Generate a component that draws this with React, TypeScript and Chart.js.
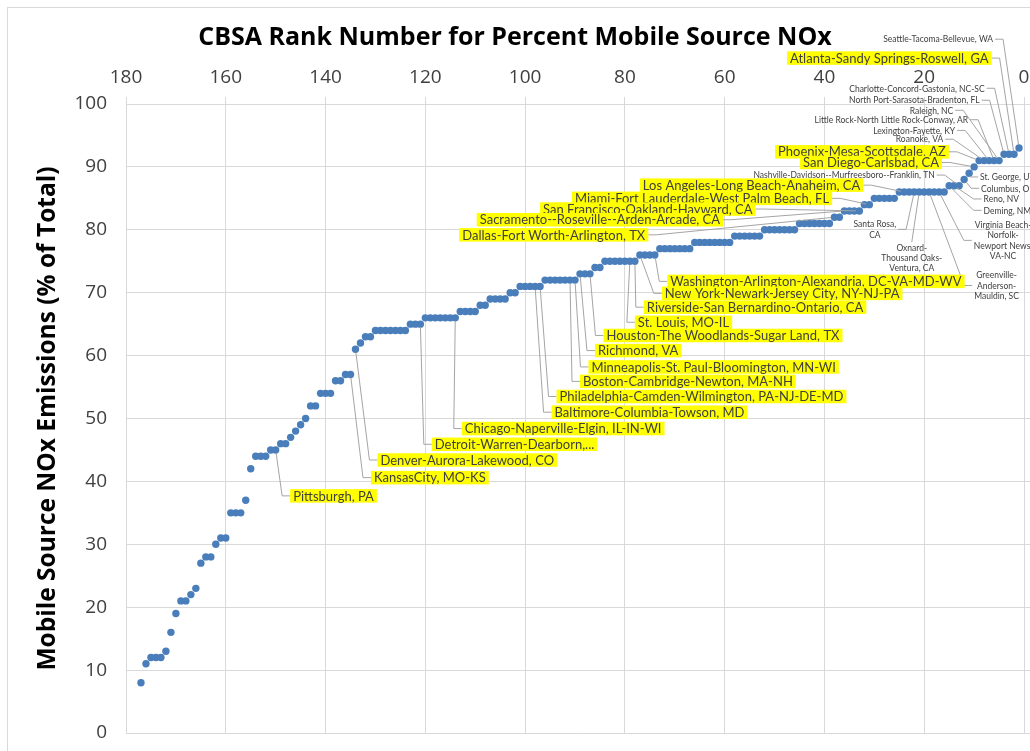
import React, { useEffect, useRef } from 'react';
import { Chart, registerables } from 'chart.js';

Chart.register(...registerables);

// Percent mobile-source NOx, listed in rank order (rank 1 first, rank 177 last)
const VALUES_BY_RANK: number[] = [
  93, 92, 92, 92, 91, 91, 91, 91, 91, 90,
  89, 88, 87, 87, 87, 86, 86, 86, 86, 86,
  86, 86, 86, 86, 86, 85, 85, 85, 85, 85,
  84, 84, 83, 83, 83, 83, 82, 82, 81, 81,
  81, 81, 81, 81, 81, 80, 80, 80, 80, 80,
  80, 80, 79, 79, 79, 79, 79, 79, 78, 78,
  78, 78, 78, 78, 78, 78, 77, 77, 77, 77,
  77, 77, 77, 76, 76, 76, 76, 75, 75, 75,
  75, 75, 75, 75, 74, 74, 73, 73, 73, 72,
  72, 72, 72, 72, 72, 72, 71, 71, 71, 71,
  71, 70, 70, 69, 69, 69, 69, 68, 68, 67,
  67, 67, 67, 66, 66, 66, 66, 66, 66, 66,
  65, 65, 65, 64, 64, 64, 64, 64, 64, 64,
  63, 63, 62, 61, 57, 57, 56, 56, 54, 54,
  54, 52, 52, 50, 49, 48, 47, 46, 46, 45,
  45, 44, 44, 44, 42, 37, 35, 35, 35, 31,
  31, 30, 28, 28, 27, 23, 22, 21, 21, 19,
  16, 13, 12, 12, 12, 11, 8,
];

const TITLE = 'CBSA Rank Number for Percent Mobile Source NOx';
const Y_TITLE = 'Mobile Source NOx Emissions (% of Total)';

type Callout = {
  text: string[];
  rank: number; // rank of the point the leader line points to
  at: [number, number]; // label anchor in data units [rank, percent]
  align: 'left' | 'right' | 'center';
  side: 'left' | 'right' | 'top';
  hl: boolean; // yellow highlighted label
};

const CALLOUTS: Callout[] = [
  { text: ['Seattle-Tacoma-Bellevue, WA'], rank: 1, at: [5.8, 110.3], align: 'right', side: 'right', hl: false },
  { text: ['Atlanta-Sandy Springs-Roswell, GA'], rank: 2, at: [47.5, 107.3], align: 'left', side: 'right', hl: true },
  { text: ['Charlotte-Concord-Gastonia, NC-SC'], rank: 3, at: [7.5, 102.5], align: 'right', side: 'right', hl: false },
  { text: ['North Port-Sarasota-Bradenton, FL'], rank: 4, at: [8.5, 100.6], align: 'right', side: 'right', hl: false },
  { text: ['Raleigh, NC'], rank: 5, at: [13.8, 99.0], align: 'right', side: 'right', hl: false },
  { text: ['Little Rock-North Little Rock-Conway, AR'], rank: 6, at: [10.8, 97.5], align: 'right', side: 'right', hl: false },
  { text: ['Lexington-Fayette, KY'], rank: 7, at: [13.4, 95.8], align: 'right', side: 'right', hl: false },
  { text: ['Roanoke, VA'], rank: 8, at: [15.8, 94.4], align: 'right', side: 'right', hl: false },
  { text: ['Phoenix-Mesa-Scottsdale, AZ'], rank: 9, at: [49.9, 92.4], align: 'left', side: 'right', hl: true },
  { text: ['San Diego-Carlsbad, CA'], rank: 10, at: [44.9, 90.7], align: 'left', side: 'right', hl: true },
  { text: ['St. George, UT'], rank: 11, at: [9.2, 88.4], align: 'left', side: 'left', hl: false },
  { text: ['Columbus, OH'], rank: 12, at: [9.0, 86.6], align: 'left', side: 'left', hl: false },
  { text: ['Nashville-Davidson--Murfreesboro--Franklin, TN'], rank: 13, at: [17.5, 88.7], align: 'right', side: 'right', hl: false },
  { text: ['Reno, NV'], rank: 14, at: [8.5, 84.9], align: 'left', side: 'left', hl: false },
  { text: ['Deming, NM'], rank: 15, at: [8.5, 83.1], align: 'left', side: 'left', hl: false },
  { text: ['Virginia Beach-', 'Norfolk-', 'Newport News,', 'VA-NC'], rank: 17, at: [4.2, 80.8], align: 'center', side: 'left', hl: false },
  { text: ['Greenville-', 'Anderson-', 'Mauldin, SC'], rank: 19, at: [5.5, 72.8], align: 'center', side: 'left', hl: false },
  { text: ['Oxnard-', 'Thousand Oaks-', 'Ventura, CA'], rank: 21, at: [22.5, 77.2], align: 'center', side: 'top', hl: false },
  { text: ['Santa Rosa,', 'CA'], rank: 22, at: [29.9, 80.9], align: 'center', side: 'right', hl: false },
  { text: ['Los Angeles-Long Beach-Anaheim, CA'], rank: 24, at: [77.0, 87.1], align: 'left', side: 'right', hl: true },
  { text: ['Miami-Fort Lauderdale-West Palm Beach, FL'], rank: 31, at: [90.6, 85.0], align: 'left', side: 'right', hl: true },
  { text: ['San Francisco-Oakland-Hayward, CA'], rank: 33, at: [97.0, 83.3], align: 'left', side: 'right', hl: true },
  { text: ['Sacramento--Roseville--Arden-Arcade, CA'], rank: 36, at: [109.7, 81.6], align: 'left', side: 'right', hl: true },
  { text: ['Dallas-Fort Worth-Arlington, TX'], rank: 38, at: [113.2, 79.2], align: 'left', side: 'right', hl: true },
  { text: ['Washington-Arlington-Alexandria, DC-VA-MD-WV'], rank: 74, at: [71.5, 71.8], align: 'left', side: 'left', hl: true },
  { text: ['New York-Newark-Jersey City, NY-NJ-PA'], rank: 77, at: [72.6, 69.9], align: 'left', side: 'left', hl: true },
  { text: ['Riverside-San Bernardino-Ontario, CA'], rank: 78, at: [76.2, 67.7], align: 'left', side: 'left', hl: true },
  { text: ['St. Louis, MO-IL'], rank: 79, at: [78.0, 65.3], align: 'left', side: 'left', hl: true },
  { text: ['Houston-The Woodlands-Sugar Land, TX'], rank: 87, at: [84.3, 63.2], align: 'left', side: 'left', hl: true },
  { text: ['Richmond, VA'], rank: 89, at: [86.0, 60.8], align: 'left', side: 'left', hl: true },
  { text: ['Minneapolis-St. Paul-Bloomington, MN-WI'], rank: 90, at: [87.3, 58.2], align: 'left', side: 'left', hl: true },
  { text: ['Boston-Cambridge-Newton, MA-NH'], rank: 91, at: [89.0, 55.9], align: 'left', side: 'left', hl: true },
  { text: ['Philadelphia-Camden-Wilmington, PA-NJ-DE-MD'], rank: 97, at: [93.7, 53.5], align: 'left', side: 'left', hl: true },
  { text: ['Baltimore-Columbia-Towson, MD'], rank: 98, at: [94.7, 51.0], align: 'left', side: 'left', hl: true },
  { text: ['Chicago-Naperville-Elgin, IL-IN-WI'], rank: 114, at: [112.7, 48.4], align: 'left', side: 'left', hl: true },
  { text: ['Detroit-Warren-Dearborn,...'], rank: 121, at: [118.7, 45.9], align: 'left', side: 'left', hl: true },
  { text: ['Denver-Aurora-Lakewood, CO'], rank: 134, at: [129.6, 43.4], align: 'left', side: 'left', hl: true },
  { text: ['KansasCity, MO-KS'], rank: 135, at: [130.9, 40.6], align: 'left', side: 'left', hl: true },
  { text: ['Pittsburgh, PA'], rank: 150, at: [147.1, 37.7], align: 'left', side: 'left', hl: true },
];

const LABEL_FONT = 'Lato, "Open Sans", sans-serif';
const AXIS_FONT = '"Open Sans", Lato, sans-serif';
const POINT_COLOR = '#4A7EBB';
const GRID_COLOR = '#D9D9D9';
const TEXT_COLOR = '#404040';

const framePlugin = {
  id: 'frame',
  beforeDraw(chart: any) {
    const ctx = chart.ctx as CanvasRenderingContext2D;
    ctx.save();
    ctx.fillStyle = '#ffffff';
    ctx.fillRect(0, 0, chart.width, chart.height);
    ctx.strokeStyle = GRID_COLOR;
    ctx.lineWidth = 1;
    ctx.strokeRect(7.5, 7.5, chart.width + 50, chart.height + 50);
    ctx.restore();
  },
};

const calloutPlugin = {
  id: 'callouts',
  afterDatasetsDraw(chart: any) {
    const ctx = chart.ctx as CanvasRenderingContext2D;
    const xs = chart.scales.x;
    const ys = chart.scales.y;
    ctx.save();
    const boxes: any[] = [];
    for (const c of CALLOUTS) {
      const fs = c.hl ? 13 : 8.5;
      const lh = c.hl ? 13.5 : 10.4;
      const pad = c.hl ? 3 : 2;
      ctx.font = `${fs}px ${LABEL_FONT}`;
      const w = Math.max(...c.text.map((t) => ctx.measureText(t).width));
      const ax = xs.getPixelForValue(c.at[0]);
      const ay = ys.getPixelForValue(c.at[1]);
      let left: number;
      if (c.align === 'left') left = ax;
      else if (c.align === 'right') left = ax - w - 2 * pad;
      else left = ax - w / 2 - pad;
      const right = left + w + 2 * pad;
      const top = ay - lh / 2;
      const bottom = top + lh * c.text.length;
      const midY = (top + bottom) / 2;
      const v = VALUES_BY_RANK[c.rank - 1];
      const px = xs.getPixelForValue(c.rank);
      const py = ys.getPixelForValue(v);
      let sx: number, sy: number, ex: number, ey: number;
      if (c.side === 'right') {
        sx = right; sy = midY; ex = right + 8; ey = midY;
      } else if (c.side === 'left') {
        sx = left; sy = midY; ex = left - 8; ey = midY;
      } else {
        sx = (left + right) / 2; sy = top; ex = sx; ey = top;
      }
      const dx = px - ex, dy = py - ey;
      const d = Math.hypot(dx, dy) || 1;
      const tx = px - (dx / d) * 3.5;
      const ty = py - (dy / d) * 3.5;
      ctx.strokeStyle = '#A5A5A5';
      ctx.lineWidth = 1;
      ctx.beginPath();
      ctx.moveTo(sx, sy);
      ctx.lineTo(ex, ey);
      ctx.lineTo(tx, ty);
      ctx.stroke();
      boxes.push({ c, fs, lh, pad, left, top, bottom, w });
    }
    for (const b of boxes) {
      const { c, fs, lh, pad, left, top, bottom, w } = b;
      if (c.hl) {
        ctx.fillStyle = '#FFFF00';
        ctx.fillRect(left, top, w + 2 * pad, bottom - top);
      }
      ctx.font = `${fs}px ${LABEL_FONT}`;
      ctx.fillStyle = TEXT_COLOR;
      ctx.textBaseline = 'middle';
      c.text.forEach((t: string, i: number) => {
        const y = top + lh * i + lh / 2 + 0.5;
        if (c.align === 'center') {
          ctx.textAlign = 'center';
          ctx.fillText(t, left + pad + w / 2, y);
        } else if (c.align === 'right') {
          ctx.textAlign = 'right';
          ctx.fillText(t, left + pad + w, y);
        } else {
          ctx.textAlign = 'left';
          ctx.fillText(t, left + pad, y);
        }
      });
    }
    ctx.restore();
  },
};

export default function App() {
  const canvasRef = useRef<HTMLCanvasElement | null>(null);

  useEffect(() => {
    document.body.style.margin = '0';
    const canvas = canvasRef.current;
    if (!canvas) return;
    const points = VALUES_BY_RANK.map((v, i) => ({ x: i + 1, y: v }));
    const chart = new Chart(canvas, {
      type: 'scatter',
      data: {
        datasets: [
          {
            data: points,
            pointRadius: 3.7,
            pointHoverRadius: 3.7,
            pointBackgroundColor: POINT_COLOR,
            pointBorderWidth: 0,
            borderWidth: 0,
            showLine: false,
          },
        ],
      },
      options: {
        animation: false,
        responsive: false,
        devicePixelRatio: 1,
        layout: { autoPadding: false, padding: { left: 0, right: 0, top: 0, bottom: 18 } },
        plugins: {
          legend: { display: false },
          tooltip: { enabled: false },
          title: {
            display: true,
            text: TITLE,
            color: '#000000',
            font: { family: AXIS_FONT, size: 25, weight: 'bold' },
            padding: { top: 23, bottom: 3.8 },
          },
        },
        scales: {
          x: {
            type: 'linear',
            position: 'top',
            reverse: true,
            min: -1.2,
            max: 180,
            afterFit: (s: any) => {
              s.height = 104 - 56.8;
              s.paddingLeft = 0;
              s.paddingRight = 0;
            },
            ticks: {
              stepSize: 20,
              includeBounds: false,
              color: TEXT_COLOR,
              font: { family: AXIS_FONT, size: 19 },
              padding: 8,
              maxRotation: 0,
            },
            grid: { color: GRID_COLOR, tickLength: 7, lineWidth: 1 },
            border: { color: GRID_COLOR },
          },
          y: {
            type: 'linear',
            min: 0,
            max: 100,
            afterFit: (s: any) => {
              s.width = 126;
              s.paddingTop = 0;
              s.paddingBottom = 0;
            },
            ticks: {
              stepSize: 10,
              color: TEXT_COLOR,
              font: { family: AXIS_FONT, size: 19 },
              padding: 19,
            },
            grid: { color: GRID_COLOR, drawTicks: false, lineWidth: 1 },
            border: { color: GRID_COLOR },
            title: {
              display: true,
              text: Y_TITLE,
              color: '#000000',
              font: { family: AXIS_FONT, size: 24.5, weight: 'bold' },
              padding: { top: 33, bottom: 0 },
            },
          },
        },
      },
      plugins: [framePlugin, calloutPlugin],
    } as any);
    return () => chart.destroy();
  }, []);

  return (
    <div style={{ width: 1030, height: 751 }}>
      <canvas ref={canvasRef} width={1030} height={751} style={{ display: 'block' }} />
    </div>
  );
}
